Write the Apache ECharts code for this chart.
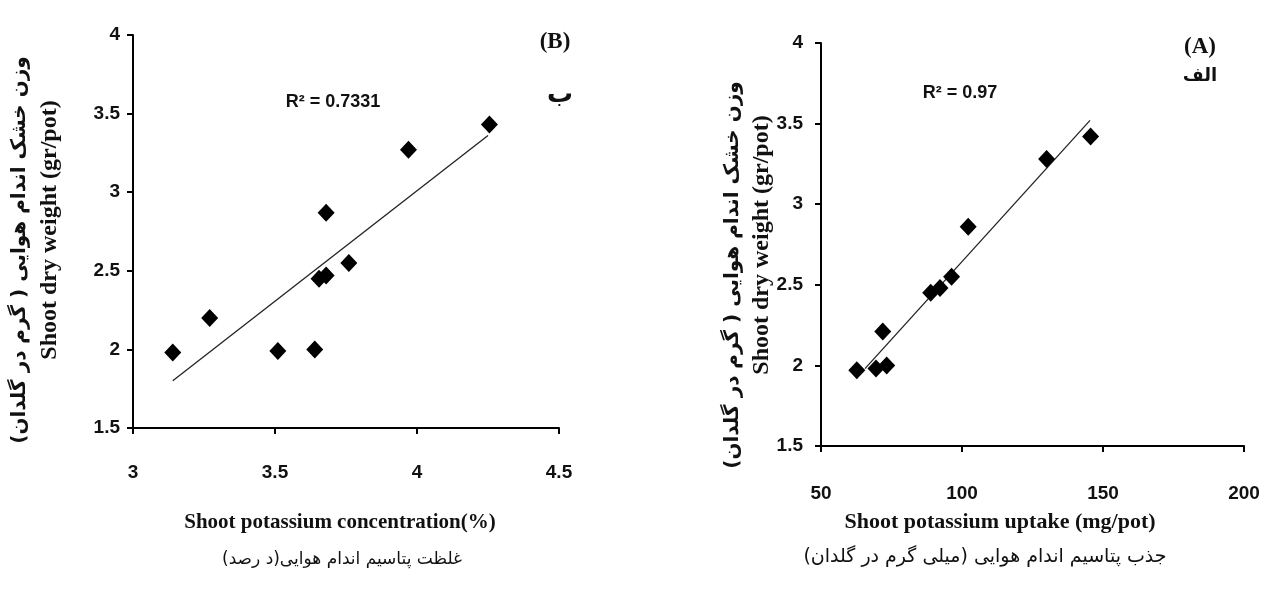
<!DOCTYPE html>
<html>
<head>
<meta charset="utf-8">
<script src="https://cdn.jsdelivr.net/npm/echarts@6/dist/echarts.min.js"></script>
<style>
html,body{margin:0;padding:0;background:#fff;}
#chart{width:1272px;height:599px;}
</style>
</head>
<body>
<div id="chart"></div>
<script>
// ---- Data ----
// Panel B: shoot K concentration (%) vs shoot dry weight (gr/pot)
const concK      = [3.14, 3.27, 3.51, 3.64, 3.655, 3.68, 3.68, 3.76, 3.97, 4.255];
const dryWeightB = [1.98, 2.20, 1.99, 2.00, 2.45, 2.47, 2.87, 2.55, 3.27, 3.43];
const trendBx    = [3.14, 4.25];
const trendBy    = [1.80, 3.36];
const r2B        = 'R² = 0.7331';

// Panel A: shoot K uptake (mg/pot) vs shoot dry weight (gr/pot)
const uptakeK    = [62.7, 69.5, 73.3, 71.9, 88.9, 92.2, 96.3, 102.2, 130.0, 145.6];
const dryWeightA = [1.97, 1.98, 2.00, 2.21, 2.45, 2.48, 2.55, 2.86, 3.28, 3.42];
const trendAx    = [65.6, 145.4];
const trendAy    = [1.98, 3.52];
const r2A        = 'R² = 0.97';

// Axis ticks
const xTicksB = [3, 3.5, 4, 4.5];
const xTicksA = [50, 100, 150, 200];
const yTicks  = [1.5, 2, 2.5, 3, 3.5, 4];

// Texts
const yNameEn = 'Shoot dry weight (gr/pot)';
const yNameFa = 'وزن خشک اندام هوایی ( گرم در گلدان)';
const xNameBEn = 'Shoot potassium concentration(%)';
const xNameBFa = 'غلظت پتاسیم اندام هوایی(د رصد)';
const xNameAEn = 'Shoot potassium uptake (mg/pot)';
const xNameAFa = 'جذب پتاسیم اندام هوایی (میلی گرم در گلدان)';

const zip = (a, b) => a.map((v, i) => [v, b[i]]);

const numFont = "'Liberation Sans Narrow','Arial Narrow','Liberation Sans',sans-serif";
const serifFont = "'Liberation Serif','Times New Roman',serif";
const faFont = "'DejaVu Sans',sans-serif";

function xAxisCfg(grid, ticks, margin) {
  return {
    type: 'value', gridIndex: grid,
    min: ticks[0], max: ticks[ticks.length - 1], interval: ticks[1] - ticks[0],
    axisLine: {show: true, onZero: false, lineStyle: {color: '#000', width: 2}},
    axisTick: {show: true, inside: false, length: 6, lineStyle: {color: '#000', width: 2}},
    axisLabel: {color: '#111', fontFamily: numFont, fontWeight: 'bold', fontSize: 19, margin: margin},
    splitLine: {show: false}
  };
}
function yAxisCfg(grid, margin) {
  return {
    type: 'value', gridIndex: grid,
    min: yTicks[0], max: yTicks[yTicks.length - 1], interval: 0.5,
    axisLine: {show: true, onZero: false, lineStyle: {color: '#000', width: 2}},
    axisTick: {show: true, inside: false, length: 6, lineStyle: {color: '#000', width: 2}},
    axisLabel: {color: '#111', fontFamily: numFont, fontWeight: 'bold', fontSize: 19, margin: margin},
    splitLine: {show: false}
  };
}

const chart = echarts.init(document.getElementById('chart'), null, {renderer: 'canvas'});

function txt(x, y, text, font, size, weight, rot) {
  return {
    type: 'text', x: x, y: y, rotation: rot || 0,
    style: {text: text, font: (weight || 'normal') + ' ' + size + 'px ' + font,
            fill: '#111', align: 'center', verticalAlign: 'middle'}
  };
}

const option = {
  backgroundColor: '#fff',
  animation: false,
  grid: [
    {left: 133, top: 35, width: 426, height: 393},
    {left: 821, top: 43, width: 423, height: 403}
  ],
  xAxis: [xAxisCfg(0, xTicksB, 35), xAxisCfg(1, xTicksA, 38)],
  yAxis: [yAxisCfg(0, 13), yAxisCfg(1, 18)],
  series: [
    {type: 'line', xAxisIndex: 0, yAxisIndex: 0, data: zip(trendBx, trendBy),
     symbol: 'none', lineStyle: {color: '#222', width: 1.3}, z: 1},
    {type: 'scatter', xAxisIndex: 0, yAxisIndex: 0, data: zip(concK, dryWeightB),
     symbol: 'diamond', symbolSize: [17, 18], itemStyle: {color: '#000', opacity: 1}, z: 2},
    {type: 'line', xAxisIndex: 1, yAxisIndex: 1, data: zip(trendAx, trendAy),
     symbol: 'none', lineStyle: {color: '#222', width: 1.3}, z: 1},
    {type: 'scatter', xAxisIndex: 1, yAxisIndex: 1, data: zip(uptakeK, dryWeightA),
     symbol: 'diamond', symbolSize: [17, 18], itemStyle: {color: '#000', opacity: 1}, z: 2}
  ],
  graphic: [
    // Panel B texts
    txt(555, 42, '(B)', serifFont, 23, 'bold'),
    txt(560, 95, 'ب', faFont, 26, 'bold'),
    txt(333, 102, r2B, numFont, 18, 'bold'),
    txt(340, 523, xNameBEn, serifFont, 21, 'bold'),
    txt(342, 560, xNameBFa, faFont, 17, 'normal'),
    txt(50, 230, yNameEn, serifFont, 24, 'bold', Math.PI / 2),
    txt(20, 250, yNameFa, faFont, 20, 'bold', Math.PI / 2),
    // Panel A texts
    txt(1200, 47, '(A)', serifFont, 23, 'bold'),
    txt(1200, 76, 'الف', faFont, 18, 'bold'),
    txt(960, 93, r2A, numFont, 18, 'bold'),
    txt(1000, 522, xNameAEn, serifFont, 22, 'bold'),
    txt(985, 557, xNameAFa, faFont, 19, 'normal'),
    txt(762, 245, yNameEn, serifFont, 24, 'bold', Math.PI / 2),
    txt(733, 275, yNameFa, faFont, 20, 'bold', Math.PI / 2)
  ]
};
chart.setOption(option);
</script>
</body>
</html>
